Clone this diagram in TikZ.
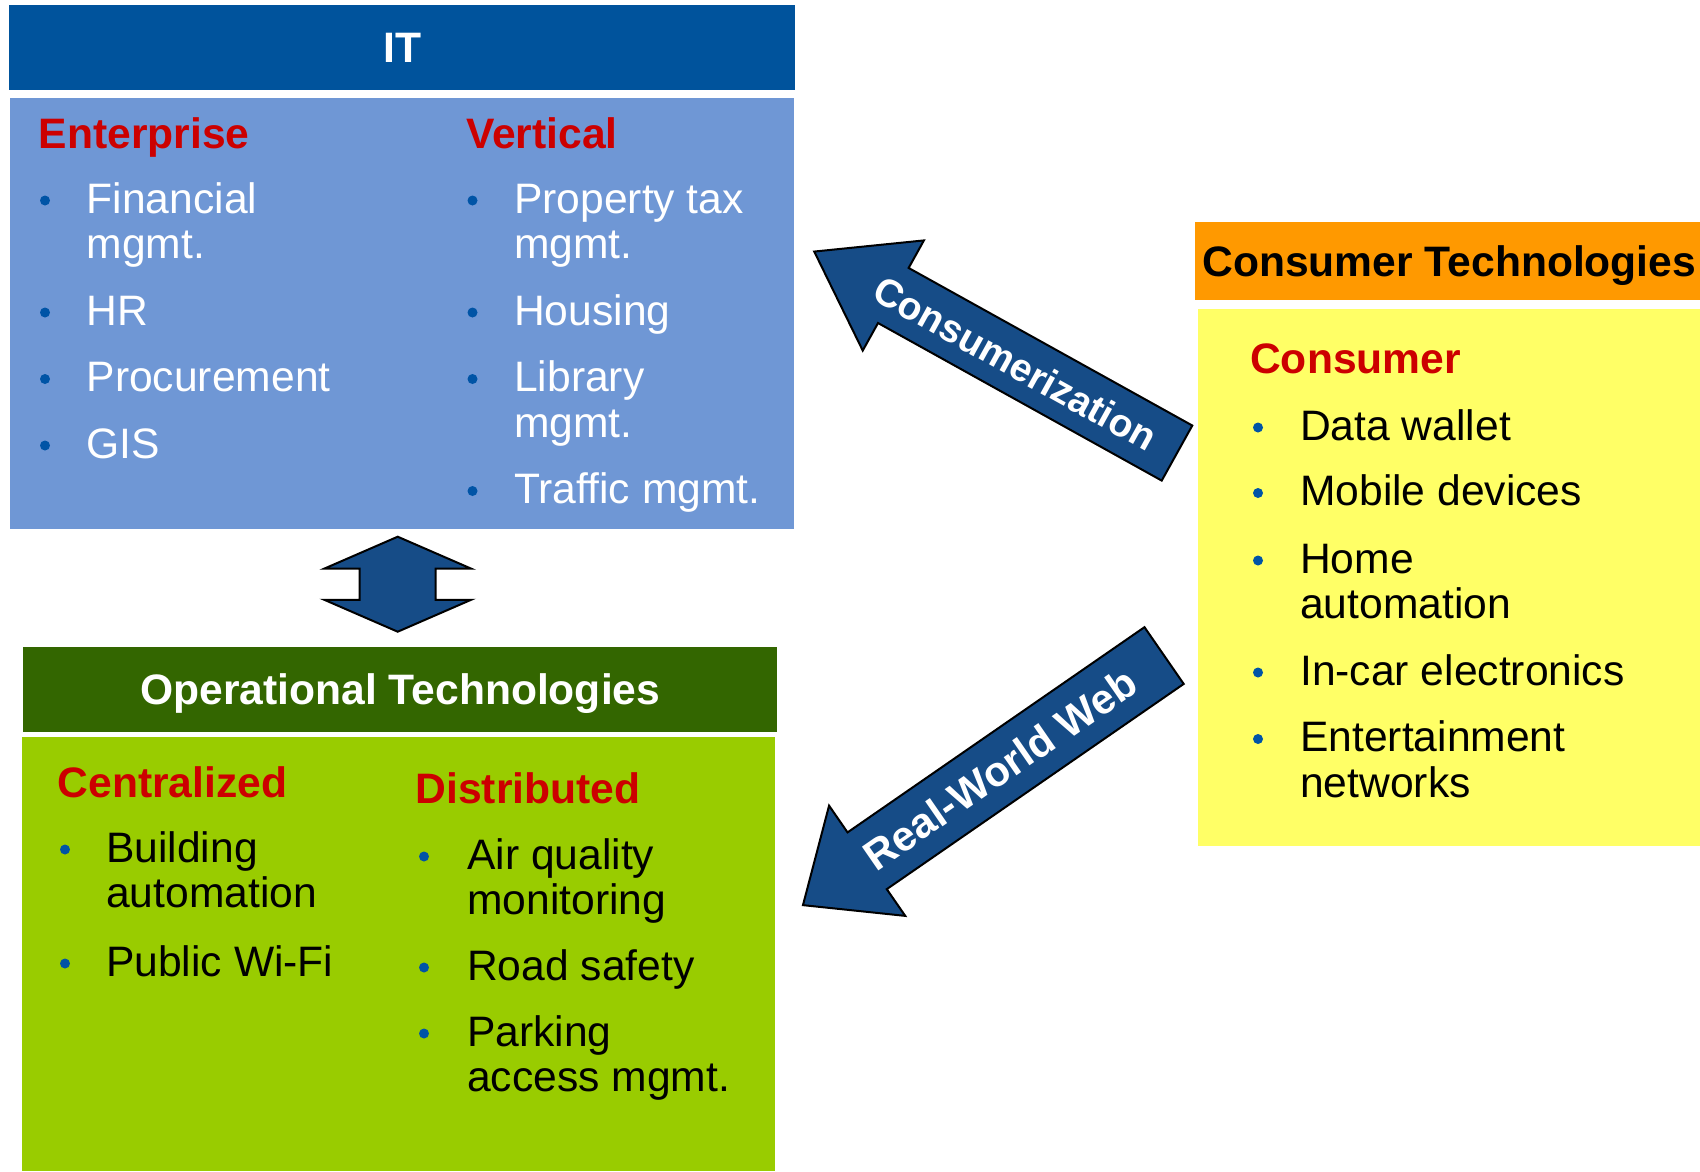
\documentclass[tikz,border=0pt]{standalone}
\usepackage{fontspec}
\setmainfont{Liberation Sans}
\usetikzlibrary{shapes.arrows}

\definecolor{itdark}{HTML}{00539C}
\definecolor{itlight}{HTML}{6F97D5}
\definecolor{otdark}{HTML}{336600}
\definecolor{otlight}{HTML}{99CC00}
\definecolor{ctdark}{HTML}{FF9900}
\definecolor{ctlight}{HTML}{FFFF66}
\definecolor{catred}{HTML}{CC0000}
\definecolor{dotblue}{HTML}{0054A6}
\definecolor{arrowblue}{HTML}{164C87}

\newcommand{\txtsize}{\fontsize{42.6}{45.5}\selectfont}

\begin{document}
\begin{tikzpicture}[x=1pt, y=-1pt,
  box/.style={anchor=north west, inner sep=0pt},
  boxtitle/.style={box, font=\txtsize\bfseries, text height=30pt, text depth=0pt},
  cat/.style={anchor=base west, inner sep=0pt, font=\txtsize\bfseries, text=catred},
  entry/.style={anchor=base west, inner sep=0pt, font=\txtsize},
  bigarrow/.style={single arrow, draw=black, line width=2pt, fill=arrowblue, text=white,
    single arrow head indent=0pt, inner xsep=0pt, text depth=0pt, shape border rotate=180}]
  \useasboundingbox (0,0) rectangle (1700,1171);

  % IT
  \begin{scope}
    \node[boxtitle, fill=itdark, text=white, minimum width=786, minimum height=85] (ithead) at (9,5) {IT};
    \node[box, fill=itlight, minimum width=784, minimum height=431] (itbody) at (10,98) {};

    \node[cat] (enterprise) at (38.5,148) {Enterprise};
    \foreach \y/\t [count=\i] in {213/Financial, 258.5/mgmt., 325/HR, 391.5/Procurement, 458/GIS}
      \node[entry, text=white] (ent\i) at (86.5,\y) {\t};
    \foreach \y in {213,325,391.5,458}
      \fill[dotblue] (45,\y-12.5) circle (5pt);

    \node[cat] (vertical) at (466,148) {Vertical};
    \foreach \y/\t [count=\i] in {213/Property tax, 258.5/mgmt., 325/Housing, 391.5/Library, 437/mgmt., 503.5/Traffic mgmt.}
      \node[entry, text=white] (vert\i) at (514,\y) {\t};
    \foreach \y in {213,325,391.5,503.5}
      \fill[dotblue] (472.5,\y-12.5) circle (5pt);
  \end{scope}

  % operational technologies
  \begin{scope}
    \node[boxtitle, fill=otdark, text=white, minimum width=754, minimum height=85] (othead) at (23,647) {Operational Technologies};
    \node[box, fill=otlight, minimum width=753, minimum height=434] (otbody) at (22,737) {};

    \node[cat] (centralized) at (57.5,797) {Centralized};
    \foreach \y/\t [count=\i] in {862/Building, 907/automation, 976/Public Wi-Fi}
      \node[entry] (cent\i) at (106,\y) {\t};
    \foreach \y in {862,976}
      \fill[dotblue] (65,\y-12.5) circle (5pt);

    \node[cat] (distributed) at (415.5,803) {Distributed};
    \foreach \y/\t [count=\i] in {869/Air quality, 914/monitoring, 980/Road safety, 1046/Parking, 1091/access mgmt.}
      \node[entry] (dist\i) at (467,\y) {\t};
    \foreach \y in {869,980,1046}
      \fill[dotblue] (424,\y-12.5) circle (5pt);
  \end{scope}

  % consumer technologies
  \begin{scope}
    \node[boxtitle, fill=ctdark, minimum width=508, minimum height=78] (cthead) at (1195,222) {Consumer Technologies};
    \node[box, fill=ctlight, minimum width=510, minimum height=537] (ctbody) at (1198,309) {};

    \node[cat] (consumer) at (1250,373.5) {Consumer};
    \foreach \y/\t [count=\i] in {440/Data wallet, 505.5/Mobile devices, 573/Home, 618.5/automation, 685/In-car electronics, 751.5/Entertainment, 797/networks}
      \node[entry] (cons\i) at (1300,\y) {\t};
    \foreach \y in {440,505.5,573,685,751.5}
      \fill[dotblue] (1258,\y-12.5) circle (5pt);
  \end{scope}

  % block arrows
  \node[double arrow, draw=black, line width=2pt, fill=arrowblue, rotate=90, minimum height=95,
    inner xsep=0pt, inner ysep=37pt, double arrow head extend=35.5pt, double arrow tip angle=133,
    double arrow head indent=0pt] (itot) at (397.7,584.2) {};

  \node[bigarrow, rotate=-29.05, anchor=tip, minimum height=415, inner ysep=16.5pt, text height=28pt,
    single arrow head extend=31.5pt, single arrow tip angle=69.7, font=\fontsize{39}{40}\selectfont\bfseries]
    (consumerization) at (812.7,250.7) {Consumerization\hspace{60pt}};

  \node[bigarrow, rotate=34.65, anchor=tip, minimum height=439, inner ysep=18.5pt, text height=30pt,
    single arrow head extend=32.5pt, single arrow tip angle=81.3, font=\fontsize{42}{43}\selectfont\bfseries]
    (realworld) at (801.7,906) {Real-World Web\hspace{38pt}};
\end{tikzpicture}
\end{document}
